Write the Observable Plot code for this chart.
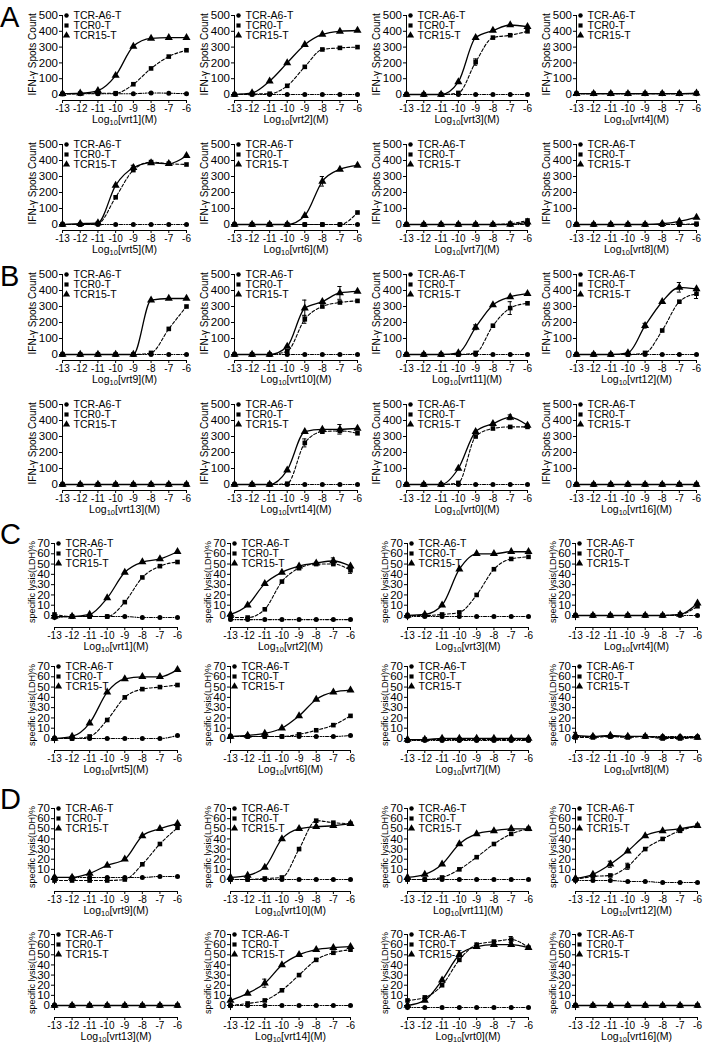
<!DOCTYPE html>
<html><head><meta charset="utf-8">
<script src="https://cdn.jsdelivr.net/npm/d3@7"></script>
<script src="https://cdn.jsdelivr.net/npm/@observablehq/plot@0.6"></script>
<style>
body{margin:0;background:#fff;}
#fig{position:relative;width:704px;height:1050px;overflow:hidden;font-family:"Liberation Sans",Arial,sans-serif;background:#fff;}
.panel{position:absolute;}
.letter{position:absolute;font-size:29px;line-height:30px;color:#000;}
</style></head><body><div id="fig"></div>
<script>
// ---------- data ----------
const doses = [-13,-12,-11,-10,-9,-8,-7,-6];
const tcrs = ["TCR-A6-T","TCR0-T","TCR15-T"];
const peptidesAC = ["vrt1","vrt2","vrt3","vrt4","vrt5","vrt6","vrt7","vrt8"];
const peptidesBD = ["vrt9","vrt10","vrt11","vrt12","vrt13","vrt14","vrt0","vrt16"];
const ifnTicks = [0,100,200,300,400,500];
const ldhTicks = [0,10,20,30,40,50,60,70];
const ifnLabel = "IFN-γ Spots Count";
const ldhLabel = "specific lysis(LDH)%";

// A: IFN-γ spots, vrt1..vrt8
const A_A6 = [
  [5,5,5,5,5,10,8,5],[0,0,0,0,0,0,0,0],[0,0,0,0,0,0,0,0],[5,5,5,5,5,5,5,5],
  [0,0,0,0,0,0,0,0],[0,0,0,0,0,0,0,0],[0,0,0,0,0,0,0,0],[0,0,0,0,0,0,0,0]];
const A_T0 = [
  [3,5,8,8,65,165,240,280],[0,3,5,55,175,285,295,300],[0,0,0,10,205,360,375,400],[5,5,5,5,5,5,5,8],
  [0,0,5,170,340,390,380,375],[0,0,0,0,0,0,0,75],[0,0,0,0,0,0,5,25],[0,0,0,0,0,0,0,5]];
const A_T15 = [
  [5,8,25,120,305,355,360,360],[0,10,85,200,315,380,400,405],[0,0,0,80,360,405,440,430],[5,5,5,5,5,5,5,8],
  [0,5,10,245,355,385,380,430],[0,0,0,0,55,270,345,370],[0,0,0,0,0,0,0,15],[0,0,0,0,0,5,20,45]];

// B: IFN-γ spots, vrt9..vrt16
const B_A6 = [
  [0,0,0,0,0,0,0,0],[0,0,0,0,0,0,0,0],[0,0,0,0,0,0,0,0],[0,0,0,0,0,0,0,0],
  [0,0,0,0,0,0,0,0],[0,0,0,0,0,0,0,0],[0,0,0,0,0,0,0,0],[0,0,0,0,0,0,0,0]];
const B_T0 = [
  [0,0,0,0,0,10,160,300],[0,0,0,20,220,300,325,335],[0,0,0,0,10,180,290,320],[0,0,0,0,10,150,330,380],
  [0,0,0,0,0,0,0,0],[0,0,0,5,260,330,335,320],[0,0,0,10,300,350,360,360],[0,0,0,0,0,0,0,0]];
const B_T15 = [
  [0,0,0,0,0,340,350,350],[0,0,0,50,290,330,385,395],[0,0,0,10,170,310,360,380],[0,0,0,10,180,330,420,410],
  [0,0,0,0,0,0,0,0],[0,0,0,90,330,345,345,350],[0,0,0,100,330,380,420,370],[0,0,0,0,0,0,0,0]];

// C: LDH lysis %, vrt1..vrt8
const C_A6 = [
  [-2,-1,-1,-1,-1,-2,-2,-2],[-4,-4,-4,-4,-4,-4,-4,-4],[-1,-1,-1,-1,-1,-1,-1,-1],[0,0,0,0,0,0,0,0],
  [0,0,0,0,0,0,0,3],[2,2,2,2,2,2,2,3],[-2,-2,-2,-2,-2,-2,-2,-2],[2,2,2,2,2,2,2,2]];
const C_T0 = [
  [1,-1,-1,-1,13,37,48,52],[-2,-2,6,33,46,50,50,44],[0,0,1,3,20,45,55,57],[0,0,0,0,0,0,1,9],
  [0,0,2,18,40,48,50,52],[2,2,2,2,4,8,13,22],[-2,-1,-1,-1,-1,-1,-1,-1],[1,1,2,1,2,0,0,1]];
const C_T15 = [
  [-1,-1,1,17,42,52,55,62],[1,10,31,42,48,51,53,48],[0,1,10,45,60,60,62,62],[0,0,0,0,0,0,1,12],
  [0,2,15,45,58,60,60,67],[2,3,5,10,22,38,45,47],[-1,-1,0,0,0,0,0,0],[3,2,3,2,2,1,1,1]];

// D: LDH lysis %, vrt9..vrt16
const D_A6 = [
  [2,2,2,2,2,2,3,3],[0,0,0,0,0,0,0,0],[0,0,0,0,0,0,0,0],[-1,-1,-1,-2,-2,-3,-3,-3],
  [0,0,0,0,0,0,0,0],[0,0,0,0,0,0,0,0],[-2,-2,-2,-2,-2,-2,-2,-2],[0,0,0,0,0,0,0,0]];
const D_T0 = [
  [-1,-1,-1,-1,0,15,35,51],[0,0,1,2,30,58,56,55],[0,0,2,10,22,35,45,50],[0,3,4,13,30,40,48,53],
  [0,0,0,0,0,0,0,0],[0,2,5,15,30,45,52,55],[5,8,20,45,60,63,65,57],[0,0,0,0,0,0,0,0]];
const D_T15 = [
  [2,2,6,14,20,43,50,55],[2,4,12,40,50,52,53,55],[2,5,15,35,45,48,50,50],[1,5,15,28,43,48,50,53],
  [0,0,0,0,0,0,0,0],[5,12,22,40,50,55,57,58],[0,5,25,50,58,60,60,57],[0,0,0,0,0,0,0,0]];

// error bars (SEM): [section, panel, series(0=A6,1=TCR0,2=TCR15), dose, sem]
const errorBars = [
  ["A",2,1,-9,20],["A",4,2,-9,15],["A",5,2,-8,30],
  ["B",1,2,-9,50],["B",1,1,-9,25],["B",1,2,-7,40],["B",2,2,-9,15],["B",2,1,-7,40],
  ["B",3,2,-9,15],["B",3,2,-7,30],["B",3,1,-6,30],["B",5,2,-7,30],["B",5,1,-9,25],["B",6,2,-7,15],
  ["C",1,2,-7,3],["C",1,1,-6,3],["C",7,2,-13,3],
  ["D",3,2,-11,3],["D",3,1,-10,3],["D",5,2,-11,4],["D",6,1,-7,3]
];

// ---------- layout ----------
const fig = document.getElementById("fig");
const FONT = "'Liberation Sans', Arial, sans-serif";
const colsIFN = {x13: [62,234,406,576], x6: [186,357,527,696]};
const colsLDH = {x13: [54,230,407,575], x6: [177,350,528,697]};
const sections = [
  {letter: "A", letterTop: 1.5, peptides: peptidesAC, a6: A_A6, t0: A_T0, t15: A_T15, cols: colsIFN,
   rows: [{top:15, zero:94, axis:100},{top:144, zero:224, axis:230}], yMax: 500, yMin: -5, ticks: ifnTicks,
   ylabel: ifnLabel, ylabelDx: -30, ylabelSize: 10},
  {letter: "B", letterTop: 261, peptides: peptidesBD, a6: B_A6, t0: B_T0, t15: B_T15, cols: colsIFN,
   rows: [{top:274, zero:354, axis:360},{top:404, zero:484, axis:490}], yMax: 500, yMin: -5, ticks: ifnTicks,
   ylabel: ifnLabel, ylabelDx: -30, ylabelSize: 10},
  {letter: "C", letterTop: 519, peptides: peptidesAC, a6: C_A6, t0: C_T0, t15: C_T15, cols: colsLDH,
   rows: [{top:543, zero:615, axis:627},{top:666, zero:738, axis:750}], yMax: 70, yMin: -5, ticks: ldhTicks,
   ylabel: ldhLabel, ylabelDx: -22, ylabelSize: 9},
  {letter: "D", letterTop: 784, peptides: peptidesBD, a6: D_A6, t0: D_T0, t15: D_T15, cols: colsLDH,
   rows: [{top:808, zero:879, axis:891},{top:934, zero:1005, axis:1017}], yMax: 70, yMin: -5, ticks: ldhTicks,
   ylabel: ldhLabel, ylabelDx: -22, ylabelSize: 9}
];

const symbols = ["circle","square","triangle"];
const symR = [2.5, 2.6, 3];
const dashes = ["3,1.5,1,1.5,1,1.5", "3,2", null];
const widths = [1.1, 1.1, 1.3];

function drawPanel(sec, k) {
  const row = sec.rows[Math.floor(k / 4)], col = k % 4;
  const x13 = sec.cols.x13[col], x6 = sec.cols.x6[col];
  const mL = 62, mR = 8, mT = 24, mB = 32;
  const L = x13 - mL, T = row.top - mT;
  const W = mL + (x6 - x13) + mR;
  const H = mT + (row.axis - row.top) + mB;
  const series = [sec.a6[k], sec.t0[k], sec.t15[k]];
  const data = [];
  series.forEach((vals, s) => vals.forEach((v, i) => data.push({tcr: tcrs[s], s, dose: doses[i], value: v})));
  const errs = errorBars.filter(e => e[0] === sec.letter && e[1] === k).map(e => {
    const v = series[e[2]][doses.indexOf(e[3])];
    return {dose: e[3], lo: v - e[4], hi: v + e[4]};
  });
  const marks = [
    Plot.ruleX([-13], {y1: sec.yMin, y2: sec.yMax, stroke: "black", strokeWidth: 1}),
    Plot.frame({anchor: "bottom", stroke: "black", strokeWidth: 1}),
    Plot.axisY({ticks: sec.ticks, tickSize: 3, tickPadding: 1.5, tickFormat: d => String(d), label: null, fontSize: 11.5}),
    Plot.axisX({ticks: doses, tickSize: 3, tickPadding: 1, tickFormat: d => String(d), label: null, fontSize: 10})
  ];
  for (let s = 0; s < 3; s++) {
    const sd = data.filter(d => d.s === s);
    marks.push(Plot.line(sd, {x: "dose", y: "value", stroke: "black", strokeWidth: widths[s],
      strokeDasharray: dashes[s], curve: "monotone-x"}));
  }
  if (errs.length) {
    marks.push(Plot.ruleX(errs, {x: "dose", y1: "lo", y2: "hi", stroke: "black", strokeWidth: 1}));
    marks.push(Plot.ruleY(errs, {y: "hi", x1: d => d.dose - 0.12, x2: d => d.dose + 0.12, stroke: "black", strokeWidth: 1}));
    marks.push(Plot.ruleY(errs, {y: "lo", x1: d => d.dose - 0.12, x2: d => d.dose + 0.12, stroke: "black", strokeWidth: 1}));
  }
  for (let s = 0; s < 3; s++) {
    const sd = data.filter(d => d.s === s);
    marks.push(Plot.dot(sd, {x: "dose", y: "value", symbol: symbols[s], r: symR[s], fill: "black", stroke: "none"}));
  }
  tcrs.forEach((name, i) => {
    marks.push(Plot.dot([name], {frameAnchor: "top-left", dx: 4, dy: i * 10, symbol: symbols[i], r: symR[i] * 0.9, fill: "black", stroke: "none"}));
    marks.push(Plot.text([name], {frameAnchor: "top-left", dx: 11, dy: i * 10, text: d => d, textAnchor: "start", lineAnchor: "middle", fontSize: 10.5}));
  });
  marks.push(Plot.text([sec.ylabel], {frameAnchor: "left", dx: sec.ylabelDx, rotate: -90, text: d => d, fontSize: sec.ylabelSize}));
  marks.push(Plot.text([`Log10[${sec.peptides[k]}](M)`], {frameAnchor: "bottom", dy: 22, text: d => d, fontSize: 10.5}));

  const svg = Plot.plot({
    width: W, height: H,
    marginLeft: mL, marginRight: mR, marginTop: mT, marginBottom: mB,
    x: {domain: [-13, -6], range: [mL, W - mR]},
    y: {domain: [0, sec.yMax], range: [row.zero - T, row.top - T]},
    style: {fontFamily: FONT, fontSize: "11px", background: "transparent", overflow: "visible", color: "black"},
    marks
  });
  svg.classList.add("panel");
  svg.style.left = L + "px";
  svg.style.top = T + "px";
  svg.style.position = "absolute";
  const ns = "http://www.w3.org/2000/svg";
  let ylab = null;
  svg.querySelectorAll("text").forEach(t => {
    if (t.textContent.startsWith("Log10[")) {
      const rest = t.textContent.slice(5);
      t.textContent = "Log";
      const sub = document.createElementNS(ns, "tspan");
      sub.setAttribute("font-size", "7.5"); sub.setAttribute("dy", "2.5"); sub.textContent = "10";
      const r = document.createElementNS(ns, "tspan");
      r.setAttribute("dy", "-2.5"); r.textContent = rest;
      t.append(sub, r);
    } else if (t.textContent === sec.ylabel) {
      ylab = t;
    }
  });
  fig.appendChild(svg);
  // align the rotated axis title so that its upper end sits at the top tick
  if (ylab) {
    const fr = fig.getBoundingClientRect();
    const rr = ylab.getBoundingClientRect();
    const delta = (row.top - 2) - (rr.top - fr.top);
    ylab.setAttribute("transform", `translate(0,${delta.toFixed(2)}) ` + (ylab.getAttribute("transform") || ""));
  }
}

sections.forEach(sec => {
  for (let k = 0; k < 8; k++) drawPanel(sec, k);
  const d = document.createElement("div");
  d.className = "letter"; d.textContent = sec.letter;
  d.style.left = "0px"; d.style.top = sec.letterTop + "px";
  fig.appendChild(d);
});
</script></body></html>
